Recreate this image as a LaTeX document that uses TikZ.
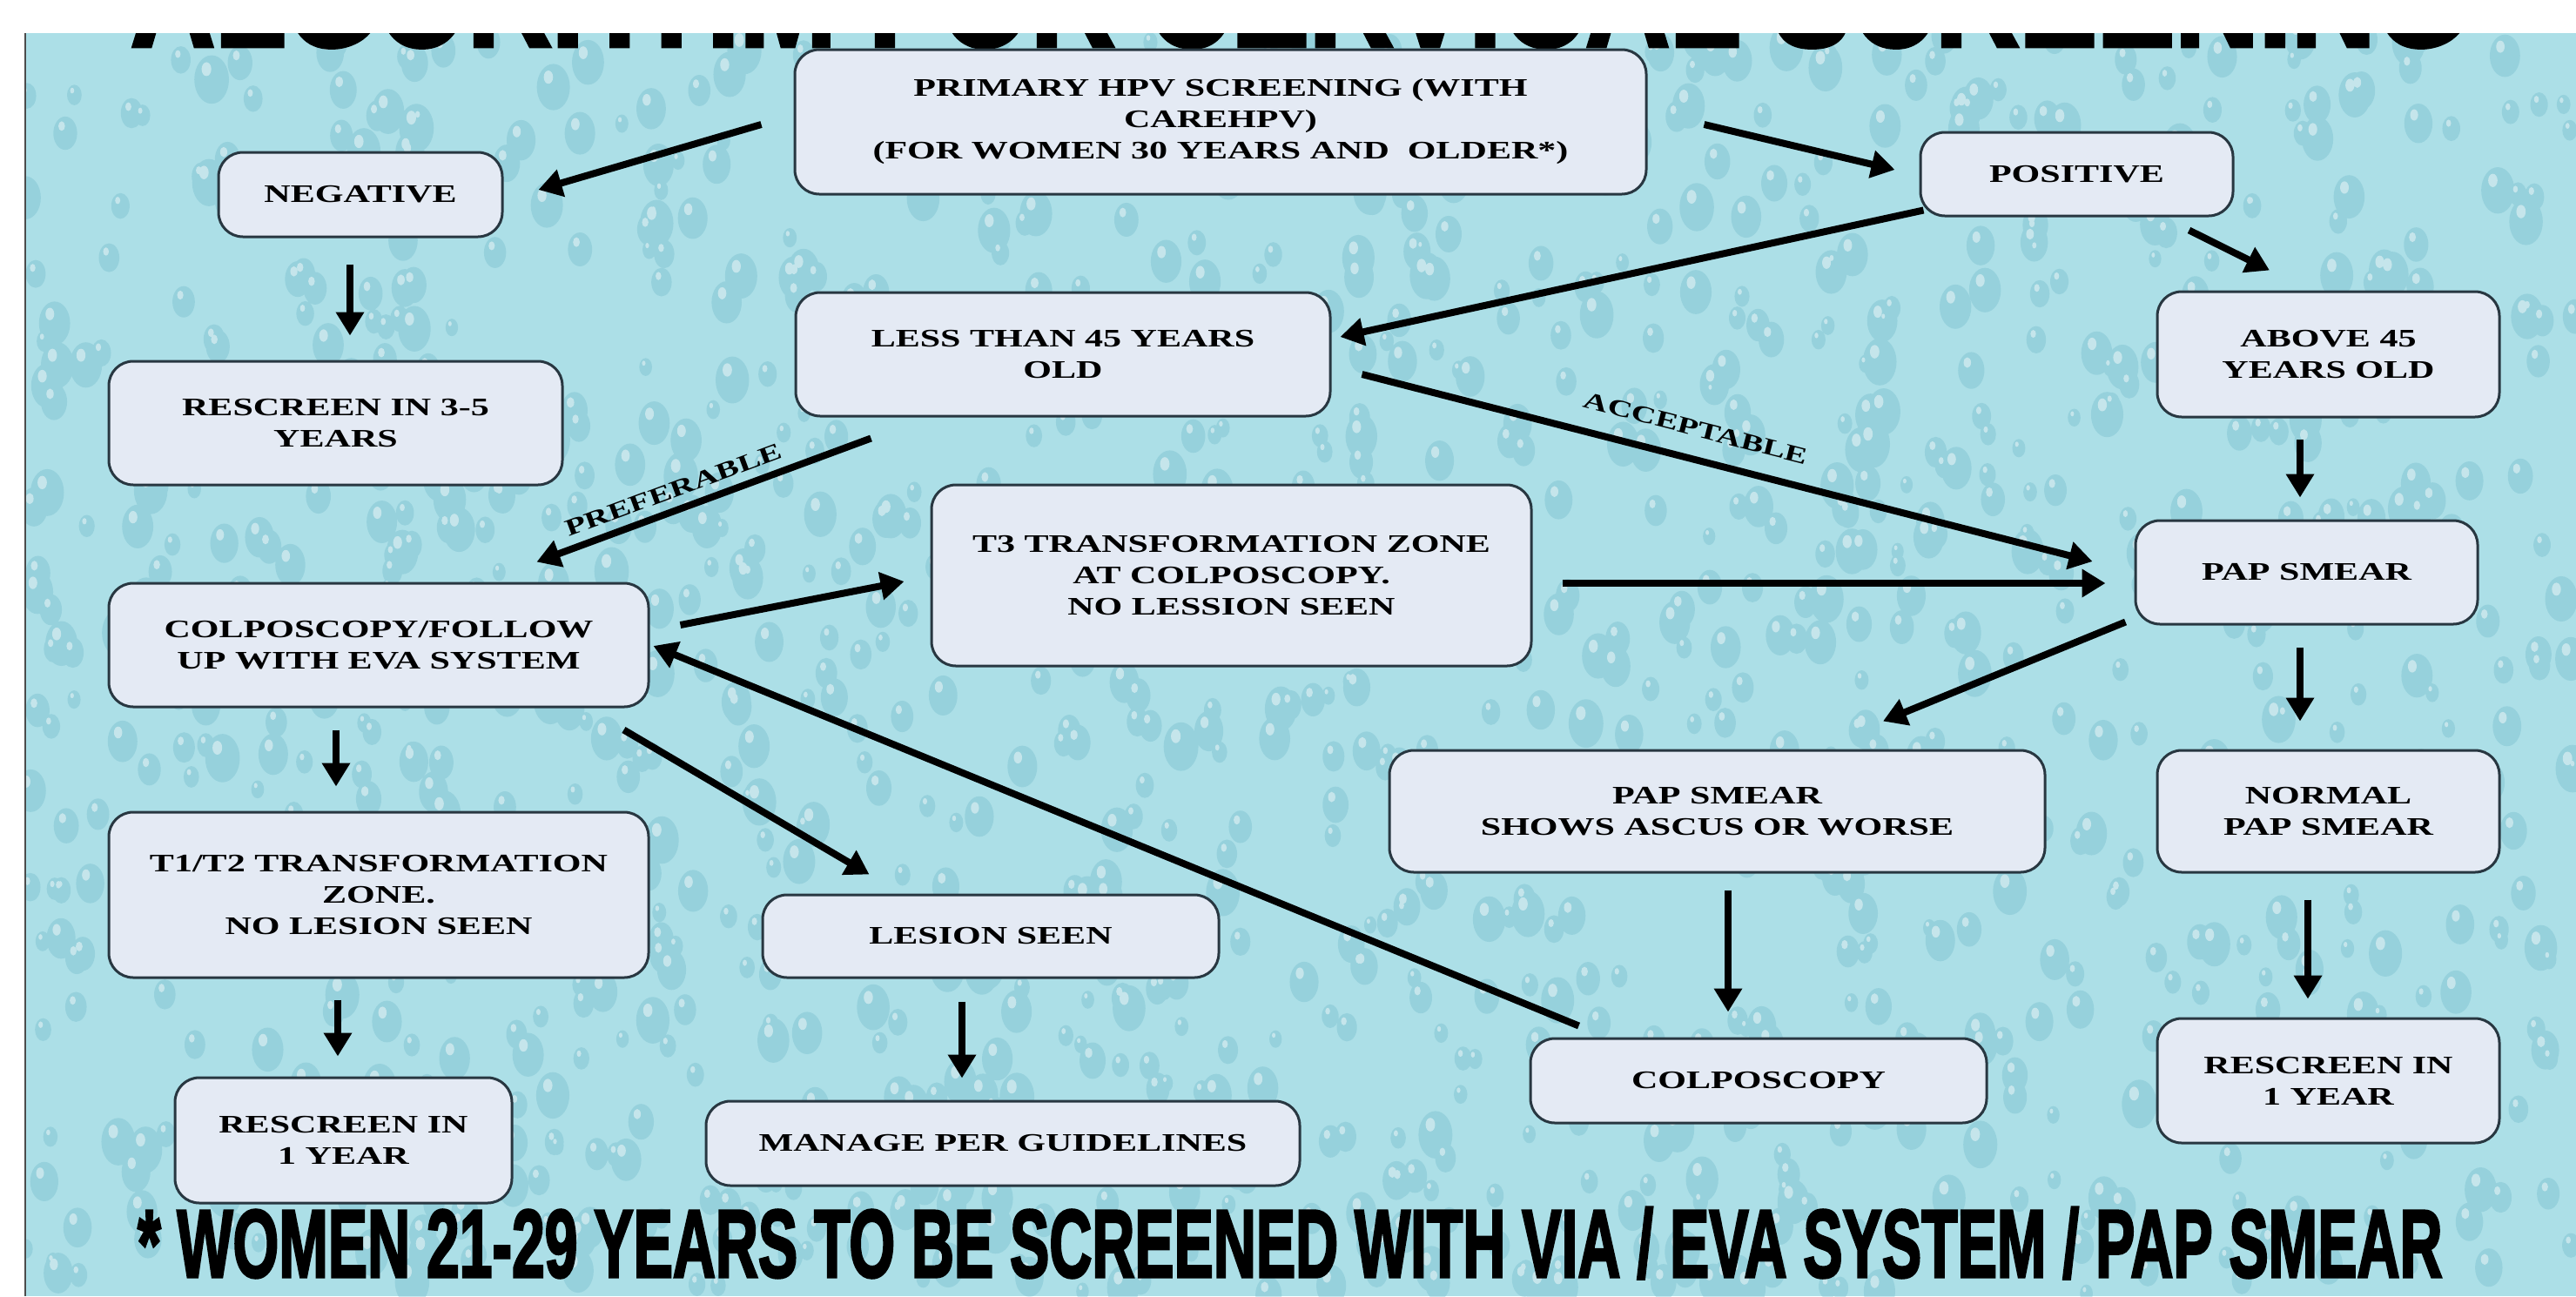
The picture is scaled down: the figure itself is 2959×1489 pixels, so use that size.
\documentclass[tikz,border=0pt]{standalone}
\usepackage{fontspec}
\usepackage{graphicx}
\setmainfont{Liberation Serif}
\newfontfamily\boxfont{Liberation Serif}[FakeStretch=1.45]
\newfontfamily\heavyfont{Liberation Sans}[FakeBold=3]
\usetikzlibrary{arrows.meta,calc}
\definecolor{bgaqua}{RGB}{172,223,231}
\definecolor{dropdark}{RGB}{100,178,197}
\definecolor{boxfill}{RGB}{228,234,244}
\definecolor{boxline}{RGB}{40,55,65}
\begin{document}
\begin{tikzpicture}[x=1pt,y=-1pt,
  box/.style={draw=boxline, line width=3pt, fill=boxfill, rounded corners=28pt,
    align=center, inner sep=0pt, text=black,
    font=\boxfont\bfseries\fontsize{29}{36}\selectfont},
  arr/.style={line width=8pt, black, -{Triangle[length=27pt,width=31pt]}},
  lab/.style={font=\boxfont\bfseries\fontsize{27}{30}\selectfont, inner sep=0pt, text=black}
]
\useasboundingbox (0,0) rectangle (2959,1489);
% background
\fill[bgaqua] (29,38) rectangle (2959,1489);
\begin{scope}
  \clip (29,38) rectangle (2959,1489);
  \pgfmathsetseed{7}
  \gdef\dropsd{}\gdef\dropsl{}
  \foreach \i in {1,...,1300}{
    \pgfmathsetmacro{\dx}{29+rnd*2930}
    \pgfmathsetmacro{\dy}{38+rnd*1451}
    \pgfmathsetmacro{\dr}{7+rnd*13}
    \pgfmathsetmacro{\dq}{1.4*\dr}
    \pgfmathsetmacro{\hx}{\dx-0.3*\dr}
    \pgfmathsetmacro{\hy}{\dy-0.6*\dr}
    \pgfmathsetmacro{\hr}{0.28*\dr}
    \pgfmathsetmacro{\hq}{0.4*\dr}
    \xdef\dropsd{\dropsd (\dx,\dy) ellipse[x radius=\dr, y radius=\dq]}
    \xdef\dropsl{\dropsl (\hx,\hy) ellipse[x radius=\hr, y radius=\hq]}
  }
  \edef\drawdrops{\noexpand\fill[dropdark, opacity=0.3] \dropsd;}\drawdrops
  \edef\drawhl{\noexpand\fill[white, opacity=0.45] \dropsl;}\drawhl
  \node[anchor=base west, inner sep=0pt] (title) at (150,53)
    {\resizebox{2681pt}{110pt}{\heavyfont\bfseries ALGORITHM FOR CERVICAL SCREENING}};
\end{scope}
\fill[white] (0,0) rectangle (2959,38);
\draw[line width=2pt, black!70] (29,38) -- (29,1489);

% boxes
\node[box, minimum width=978pt, minimum height=166pt] (prim) at (1402,140)
  {PRIMARY HPV SCREENING (WITH\\CAREHPV)\\(FOR WOMEN 30 YEARS AND\ \ OLDER*)};
\node[box, minimum width=326pt, minimum height=97pt] (neg) at (414,223.5) {NEGATIVE};
\node[box, minimum width=359pt, minimum height=96pt] (pos) at (2385.5,200) {POSITIVE};
\node[box, minimum width=521pt, minimum height=142pt] (res35) at (385.5,486) {RESCREEN IN 3-5\\YEARS};
\node[box, minimum width=614pt, minimum height=142pt] (less) at (1221,407) {LESS THAN 45 YEARS\\OLD};
\node[box, minimum width=393pt, minimum height=144pt] (above) at (2674.5,407) {ABOVE 45\\YEARS OLD};
\node[box, minimum width=620pt, minimum height=142pt] (colpo) at (435,741) {COLPOSCOPY/FOLLOW\\UP WITH EVA SYSTEM};
\node[box, minimum width=689pt, minimum height=208pt] (t3) at (1414.5,661) {T3 TRANSFORMATION ZONE\\AT COLPOSCOPY.\\NO LESSION SEEN};
\node[box, minimum width=393pt, minimum height=119pt] (pap) at (2649.5,657.5) {PAP SMEAR};
\node[box, minimum width=620pt, minimum height=190pt] (t12) at (435,1028) {T1/T2 TRANSFORMATION\\ZONE.\\NO LESION SEEN};
\node[box, minimum width=524pt, minimum height=95pt] (lesion) at (1138,1075.5) {LESION SEEN};
\node[box, minimum width=753pt, minimum height=140pt] (ascus) at (1972.5,932) {PAP SMEAR\\SHOWS ASCUS OR WORSE};
\node[box, minimum width=393pt, minimum height=140pt] (normal) at (2674.5,932) {NORMAL\\PAP SMEAR};
\node[box, minimum width=387pt, minimum height=144pt] (res1l) at (394.5,1310) {RESCREEN IN\\1 YEAR};
\node[box, minimum width=682pt, minimum height=97pt] (manage) at (1152,1313.5) {MANAGE PER GUIDELINES};
\node[box, minimum width=524pt, minimum height=97pt] (colpos) at (2020,1241.5) {COLPOSCOPY};
\node[box, minimum width=393pt, minimum height=143pt] (res1r) at (2674.5,1241.5) {RESCREEN IN\\1 YEAR};

% connectors
\draw[arr] ($(prim.west)+(-37,3)$) -- ($(neg.east)+(40,-5.5)$);
\draw[arr] ($(prim.east)+(65,3)$) -- ($(pos.west)+(-28,-5)$);
\draw[arr] ($(neg.south)+(-12,30)$) -- ($(res35.north)+(16.5,-28)$);
\draw[arr] ($(pos.south west)+(5,-8)$) -- ($(less.east)+(10,-20)$);
\draw[arr] ($(pos.south east)+(-52,15)$) -- ($(above.north)+(-67.5,-23)$);
\draw[arr] ($(above.south)+(-32.5,24)$) -- ($(pap.north)+(-7.5,-25)$);
\draw[arr] ($(less.south west)+(88,24)$) -- node[lab, sloped, pos=0.57, above=10pt] {PREFERABLE} ($(colpo.north east)+(-130,-23)$);
\draw[arr] ($(less.east)+(35,23)$) -- node[lab, sloped, pos=0.447, above=22pt] {ACCEPTABLE} ($(pap.west)+(-48,-12.5)$);
\draw[arr] ($(colpo.east)+(35,-23)$) -- ($(t3.west)+(-30,7)$);
\draw[arr] ($(t3.east)+(34,9)$) -- ($(pap.west)+(-33,12.5)$);
\draw[arr] ($(pap.south west)+(-10,-4)$) -- ($(ascus.north)+(190.5,-32)$);
\draw[arr] ($(pap.south)+(-7.5,25)$) -- ($(normal.north)+(-32.5,-32)$);
\draw[arr] ($(colpo.south)+(-49,25)$) -- ($(t12.north)+(-49,-28)$);
\draw[arr] ($(colpo.south east)+(-30,25)$) -- ($(lesion.north west)+(124,-22)$);
\draw[arr] ($(colpos.north west)+(57,-13)$) -- ($(colpo.east)+(4,1)$);
\draw[arr] ($(ascus.south)+(12.5,19)$) -- ($(colpos.north)+(-35,-29)$);
\draw[arr] ($(normal.south)+(-23.5,30)$) -- ($(res1r.north)+(-23.5,-21)$);
\draw[arr] ($(t12.south)+(-47,24)$) -- ($(res1l.north)+(-6.5,-23)$);
\draw[arr] ($(lesion.south)+(-33,26)$) -- ($(manage.north)+(-47,-25)$);

% footnote
\node[anchor=base west, inner sep=0pt] (foot) at (158,1467)
  {\resizebox{2647pt}{80pt}{\heavyfont\bfseries * WOMEN 21-29 YEARS TO BE SCREENED WITH VIA / EVA SYSTEM / PAP SMEAR}};
\end{tikzpicture}
\end{document}
